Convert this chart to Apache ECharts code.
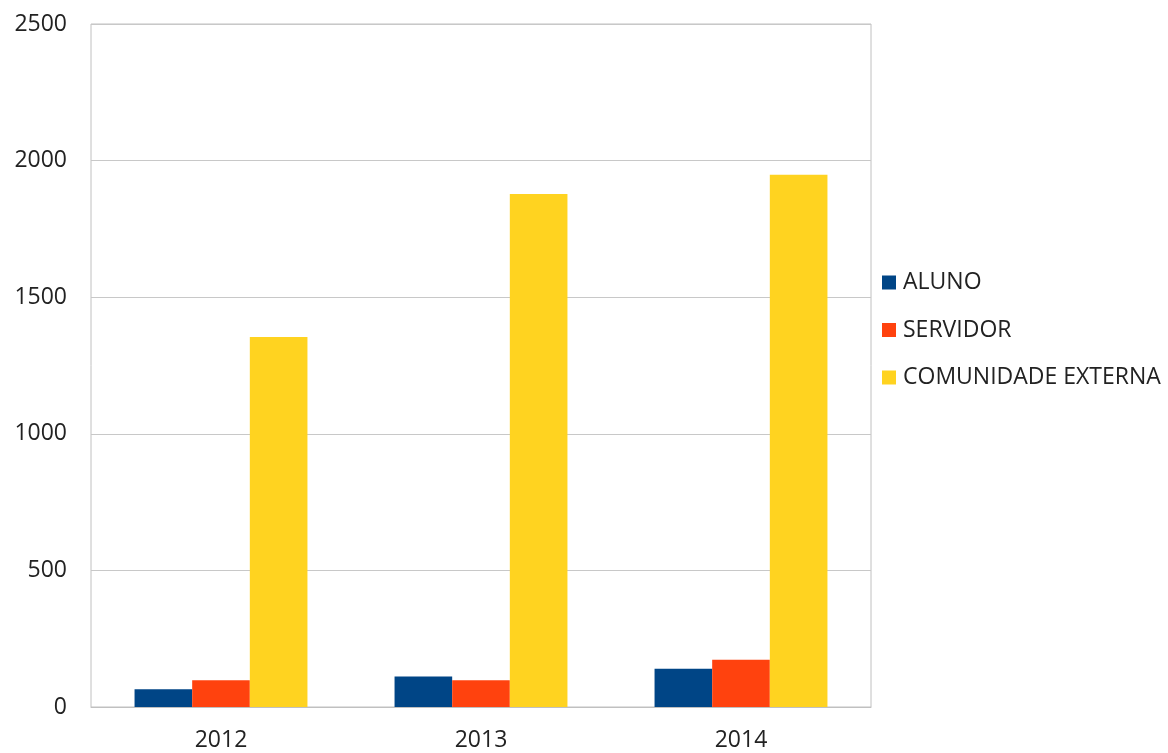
<!DOCTYPE html>
<html>
<head>
<meta charset="utf-8">
<script src="https://cdn.jsdelivr.net/npm/echarts@6/dist/echarts.min.js"></script>
<style>html,body{margin:0;padding:0;background:#fff;}#c{width:1168px;height:753px;}</style>
</head>
<body>
<div id="c"></div>
<script>
const categories = ['2012', '2013', '2014'];
const aluno = [65, 112, 140];
const servidor = [98, 98, 173];
const comunidade = [1354, 1878, 1948];
const seriesNames = ['ALUNO', 'SERVIDOR', 'COMUNIDADE EXTERNA'];
const colors = ['#004586', '#ff420e', '#ffd320'];

const chart = echarts.init(document.getElementById('c'), null, {renderer: 'canvas'});
const font = '"Open Sans", sans-serif';
chart.setOption({
  animation: false,
  color: colors,
  grid: {left: 91, top: 24, width: 780, height: 683, show: true, borderColor: '#c0c0c0', borderWidth: 1, containLabel: false},
  legend: {
    orient: 'vertical', left: 877, top: 266, itemWidth: 14, itemHeight: 14, itemGap: 24.5,
    icon: 'rect',
    textStyle: {fontFamily: font, fontSize: 23, color: '#222', padding: [0, 0, 0, 2]},
    data: seriesNames
  },
  xAxis: {
    type: 'category', data: categories,
    axisLine: {show: true, lineStyle: {color: '#c0c0c0'}},
    axisTick: {show: false},
    axisLabel: {fontFamily: font, fontSize: 23, color: '#222', margin: 22}
  },
  yAxis: {
    type: 'value', min: 0, max: 2500, interval: 500,
    axisLine: {show: false}, axisTick: {show: false},
    splitLine: {lineStyle: {color: '#c8c8c8'}},
    axisLabel: {fontFamily: font, fontSize: 23, color: '#222', margin: 24, formatter: v => String(v)}
  },
  series: [
    {name: seriesNames[0], type: 'bar', data: aluno, barGap: '0%', barCategoryGap: '33.5%'},
    {name: seriesNames[1], type: 'bar', data: servidor, barGap: '0%', barCategoryGap: '33.5%'},
    {name: seriesNames[2], type: 'bar', data: comunidade, barGap: '0%', barCategoryGap: '33.5%'}
  ]
});
</script>
</body>
</html>
